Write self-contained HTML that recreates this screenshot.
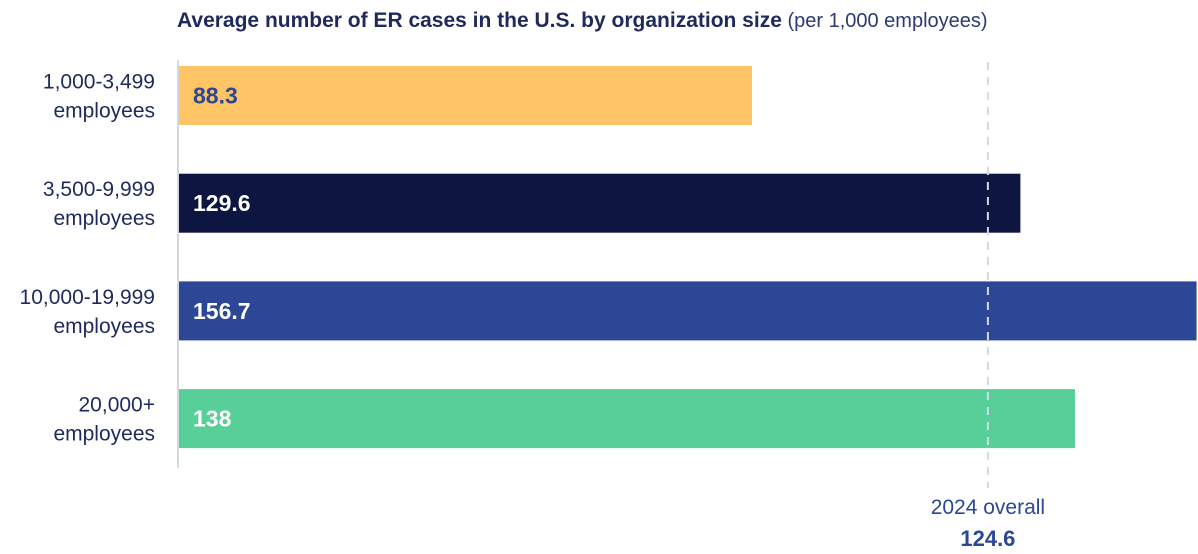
<!DOCTYPE html>
<html><head><meta charset="utf-8"><style>
html,body{margin:0;padding:0;background:#fff;}
svg{display:block;font-family:"Liberation Sans",sans-serif;}
</style></head><body>
<svg id="chart" width="1198" height="554" viewBox="0 0 1198 554">
<text x="177" y="27" font-size="21" fill="#1F2A5C"><tspan font-weight="bold">Average number of ER cases in the U.S. by organization size</tspan><tspan font-size="20" fill="#2B3A70"> (per 1,000 employees)</tspan></text>
<line x1="178" y1="60" x2="178" y2="468" stroke="#D5D8DE" stroke-width="2"/>
<g id="bars"></g>
<g id="ref"></g>
</svg>
<script>
const categories1 = ["1,000-3,499","3,500-9,999","10,000-19,999","20,000+"];
const categories2 = ["employees","employees","employees","employees"];
const values = [88.3, 129.6, 156.7, 138];
const labels = ["88.3","129.6","156.7","138"];
const colors = ["#FFC466","#0D1640","#2B4795","#58CF98"];
const labelColors = ["#2B4795","#ffffff","#ffffff","#ffffff"];
const overall = 124.6;
const overallLabel = "124.6";

const NS="http://www.w3.org/2000/svg";
const x0=178, scale=6.5;
const xs=v=>x0+v*scale;
const y=i=>66+i*107.7;
const bh=59;
const g=document.getElementById('bars');
function mk(t,a,p){const e=document.createElementNS(NS,t);for(const k in a)e.setAttribute(k,a[k]);p.appendChild(e);return e;}
values.forEach((v,i)=>{
  const r=mk('rect',{x:x0+1,y:y(i),width:xs(v)-x0-1,height:bh,fill:colors[i]},g);
  
  
  const t=mk('text',{x:193,y:y(i)+bh/2+8,'font-size':23,'font-weight':'bold',fill:labelColors[i]},g);
  t.textContent=labels[i];
  
  
  const c=mk('text',{x:155,y:y(i)+bh/2-7,'font-size':21,fill:'#1F2A5C','text-anchor':'end'},g);
  c.textContent=categories1[i];
  
  
  const c2=mk('text',{x:155,y:y(i)+bh/2+22,'font-size':21,fill:'#1F2A5C','text-anchor':'end'},g);
  c2.textContent=categories2[i];
  
  
});
const rg=document.getElementById('ref');
const rx=xs(overall);
const l=mk('line',{x1:rx,y1:62,x2:rx,y2:488,stroke:'#D3D8E8','stroke-width':2,'stroke-dasharray':'8 7'},rg);


const t1=mk('text',{x:rx,y:514,'font-size':21,fill:'#2B4795','text-anchor':'middle'},rg);
t1.textContent='2024 overall';


const t2=mk('text',{x:rx,y:546,'font-size':22,'font-weight':'bold',fill:'#2B4795','text-anchor':'middle'},rg);
t2.textContent=overallLabel;


</script>
</body></html>
